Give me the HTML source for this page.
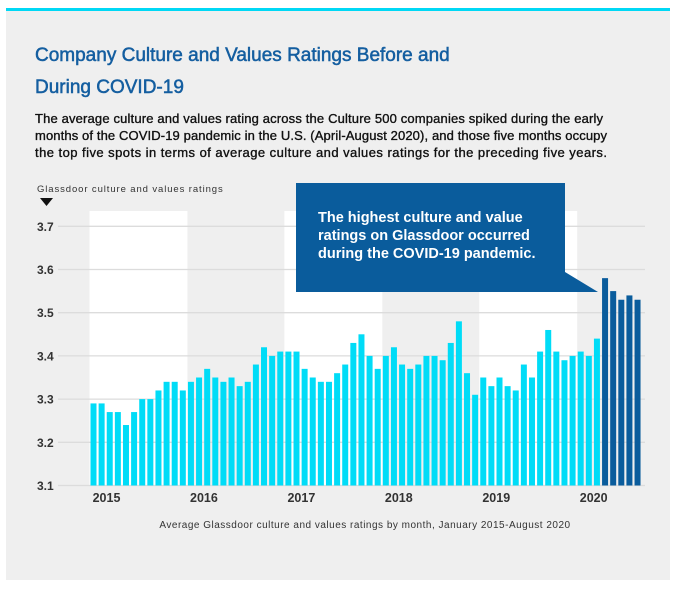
<!DOCTYPE html>
<html><head><meta charset="utf-8"><style>
body{margin:0;width:680px;height:590px;background:#fff;overflow:hidden;font-family:"Liberation Sans",sans-serif}
</style></head><body>
<svg width="680" height="590" style="position:absolute;left:0;top:0">
<rect x="6" y="11" width="664" height="569" fill="#efefef"/>
<rect x="6" y="8" width="664" height="3" fill="#00d8f5"/>
<text x="35" y="61" font-size="19" fill="#145ea0" stroke="#145ea0" stroke-width="0.5">Company Culture and Values Ratings Before and</text>
<text x="35" y="93" font-size="19" fill="#145ea0" stroke="#145ea0" stroke-width="0.5">During COVID-19</text>
<g font-size="13" fill="#111" stroke="#111" stroke-width="0.35">
<text x="35" y="123" textLength="568">The average culture and values rating across the Culture 500 companies spiked during the early</text>
<text x="35" y="140" textLength="572">months of the COVID-19 pandemic in the U.S. (April-August 2020), and those five months occupy</text>
<text x="35" y="157" textLength="572">the top five spots in terms of average culture and values ratings for the preceding five years.</text>
</g>
<text x="37" y="192" font-size="9.5" fill="#333" letter-spacing="0.9">Glassdoor culture and values ratings</text>
<polygon points="40,198 53,198 46.5,206" fill="#111"/>
<g id="bands"></g><g id="grid"></g><g id="bars"></g><g id="xl"></g>
<g>
<polygon points="296,183 565,183 565,272 598,292 296,292" fill="#0a5c9c"/>
<g font-size="14.5" font-weight="bold" fill="#fff">
<text x="318" y="222">The highest culture and value</text>
<text x="318" y="240">ratings on Glassdoor occurred</text>
<text x="318" y="258">during the COVID-19 pandemic.</text>
</g></g>
<text x="365" y="528" font-size="10" fill="#333" text-anchor="middle" letter-spacing="0.5">Average Glassdoor culture and values ratings by month, January 2015-August 2020</text>
</svg>
<script>
const values2015=[3.29,3.29,3.27,3.27,3.24,3.27,3.30,3.30,3.32,3.34,3.34,3.32];
const values2016=[3.34,3.35,3.37,3.35,3.34,3.35,3.33,3.34,3.38,3.42,3.40,3.41];
const values2017=[3.41,3.41,3.37,3.35,3.34,3.34,3.36,3.38,3.43,3.45,3.40,3.37];
const values2018=[3.40,3.42,3.38,3.37,3.38,3.40,3.40,3.39,3.43,3.48,3.36,3.31];
const values2019=[3.35,3.33,3.35,3.33,3.32,3.38,3.35,3.41,3.46,3.41,3.39,3.40];
const values2020=[3.41,3.40,3.44,3.58,3.55,3.53,3.54,3.53];
const years=["2015","2016","2017","2018","2019","2020"];
const yTicks=[3.1,3.2,3.3,3.4,3.5,3.6,3.7];
const covidStart=63;
const NS="http://www.w3.org/2000/svg";
const all=[].concat(values2015,values2016,values2017,values2018,values2019,values2020);
const y=v=>485.5-(v-3.1)*432;
const x0=90.5,pitch=8.12;
const xm=i=>x0+i*pitch;
function mk(t,a,p){const e=document.createElementNS(NS,t);for(const k in a)e.setAttribute(k,a[k]);p.appendChild(e);return e;}
const bands=document.getElementById('bands');
years.forEach((yr,j)=>{if(j%2===0){const r=mk('rect',{x:xm(j*12)-1,y:211,width:Math.min(12,all.length-j*12)*pitch+0.5,height:275,fill:'#fff'},bands);

}});
const grid=document.getElementById('grid');
yTicks.forEach(t=>{const l=mk('line',{x1:58,x2:645,y1:y(t),y2:y(t),stroke:'#dcdcdc','stroke-width':1.3},grid);


const tx=mk('text',{x:37,y:y(t)+4.5,'font-size':12,'font-weight':'bold',fill:'#333'},grid);tx.textContent=t.toFixed(1);

});
const bars=document.getElementById('bars');
all.forEach((v,i)=>{const r=mk('rect',{x:xm(i),y:y(v),width:6,height:y(3.1)-y(v),fill:i>=covidStart?'#0a5c9c':'#00dcf7'},bars);

});
const xl=document.getElementById('xl');
years.forEach((yr,j)=>{const t=mk('text',{x:xm(j*12)+16,y:502,'font-size':12.5,'font-weight':'bold',fill:'#333','text-anchor':'middle'},xl);t.textContent=yr;

});
</script>
</body></html>
